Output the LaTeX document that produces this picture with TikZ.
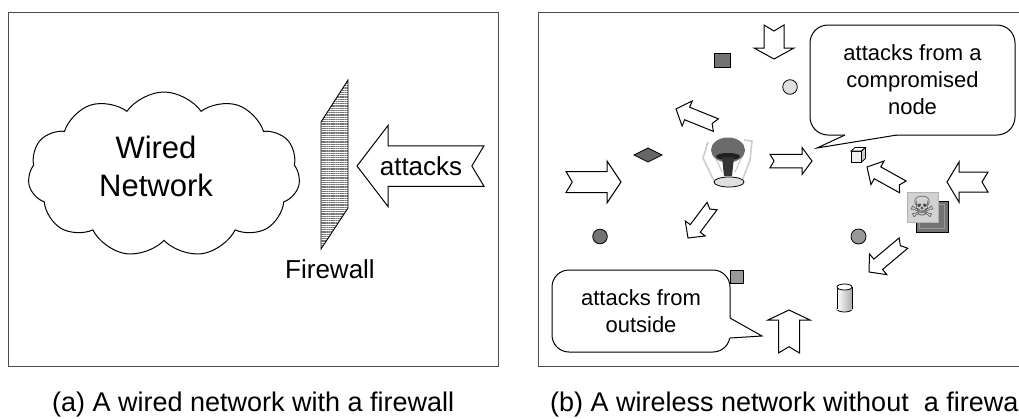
\documentclass[tikz,border=0pt]{standalone}
\usepackage{fontspec}
\setmainfont{Liberation Sans}
\newfontfamily\symbolfont{DejaVu Sans}
\usepackage{tikz}
\usetikzlibrary{shapes.symbols,patterns.meta}

\begin{document}
\begin{tikzpicture}[x=1pt,y=-1pt,
  panel/.style={draw=black!70,line width=1pt},
  blockarrow/.style={draw=black,fill=white,line width=1pt,line join=miter},
  bubble/.style={draw=black,fill=white,line width=1pt,rounded corners=18pt,
    inner sep=0pt,align=center,font=\fontsize{22}{27}\selectfont},
  caption/.style={anchor=base west,inner sep=0pt,font=\fontsize{27}{32}\selectfont},
  device/.style={draw=black,line width=0.8pt}]

\useasboundingbox (0,0) rectangle (1019,418);

% #1,#2 = tip, #3 = direction, #4 = length, #5 = head length, #6 = head width
\newcommand{\notcharrow}[6]{%
\begin{scope}[shift={(#1,#2)},rotate=#3]
  \pgfmathsetmacro{\hw}{#6/2}
  \pgfmathsetmacro{\sw}{#6/4}
  \pgfmathsetmacro{\nd}{-#4+0.15*#6}
  \draw[blockarrow] (0,0) -- (-#5,\hw) -- (-#5,\sw) -- (-#4,\sw)
    -- (\nd,0) -- (-#4,-\sw) -- (-#5,-\sw) -- (-#5,-\hw) -- cycle;
\end{scope}%
}

% Panel frames.
\draw[panel] (8,12) rectangle (498,366);
\draw[panel] (538,12) rectangle (1040,366);

% Left: wired network behind the firewall.
\node[cloud,draw=black,line width=1pt,cloud puffs=11,cloud puff arc=110,
  aspect=1.65,minimum width=272pt,minimum height=165pt,inner sep=0pt]
  (netcloud) at (164,174.5) {};
\node[align=center,font=\fontsize{31}{38}\selectfont]
  (wiredtxt) at (156,166) {Wired\\Network};

\draw[black,line width=0.9pt,
  pattern={Lines[angle=0,distance=1.8pt,line width=0.45pt]},pattern color=black!55]
  (348,80) -- (348,208) -- (321,249) -- (321,122) -- cycle;
\node[font=\fontsize{26}{30}\selectfont,anchor=base] (fwtxt) at (330,278) {Firewall};

\notcharrow{357}{166}{180}{127}{31}{81}
\node[font=\fontsize{26}{30}\selectfont,anchor=base] (atktxt) at (421,175) {attacks};

% Right: wireless nodes.
\draw[device,fill=black!55] (714,53) rectangle (730,67);
\draw[device,fill=gray!25] (790,87) circle (7.3);
\draw[device,fill=black!60] (634,155) -- (648,148) -- (662,155) -- (648,162) -- cycle;
\draw[device,fill=black!55] (600,236.5) circle (7.3);
\draw[device,fill=black!40] (858.5,236.5) circle (7.5);
\draw[device,fill=black!40] (730,270) rectangle (743,283);

% Cube.
\draw[device,fill=gray!12] (851,151) rectangle (861.5,162);
\draw[device,fill=white] (851,151) -- (855,147.5) -- (865.5,147.5) -- (861.5,151) -- cycle;
\draw[device,fill=gray!40] (861.5,151) -- (865.5,147.5) -- (865.5,158.5) -- (861.5,162) -- cycle;

% Cylinder.
\draw[device,left color=white,right color=gray!65] (844.5,309) ellipse [x radius=7.5,y radius=3];
\fill[left color=white,right color=gray!65] (837,287) rectangle (852,309);
\draw[device] (837,287) -- (837,309);
\draw[device] (852,287) -- (852,309);
\draw[device,fill=white] (844.5,287) ellipse [x radius=7.5,y radius=3];

% Compromised node.
\draw[gray!40,line width=1.6pt] (708,142) -- (703,158) -- (714,181);
\draw[gray!40,line width=1.6pt] (744,140) -- (752,141) -- (750,160) -- (742,181);
\draw[gray!40,line width=1.2pt] (712,150) -- (722,172);
\draw[gray!40,line width=1.2pt] (745,150) -- (735,172);
\fill[black!58] (728,150) ellipse [x radius=17,y radius=12.5];
\fill[black!88] (728,156.5) ellipse [x radius=12,y radius=3.5];
\fill[black!80] (722,157) -- (734,157) -- (732,176) -- (724,176) -- cycle;
\draw[black,fill=gray!25,line width=0.8pt] (729,182) ellipse [x radius=15,y radius=5];

% Skull icon.
\draw[black,fill=black!55] (916,201) rectangle (948,232);
\draw[gray!80] (919.5,204.5) rectangle (944.5,228.5);
\draw[gray!60,fill=gray!35] (907,192) rectangle (938,222);
\node[font=\symbolfont\fontsize{29}{29}\selectfont,text=black!70,inner sep=0pt]
  (skull) at (922.5,207) {☠};

% Attacks inside and outside the network.
\notcharrow{774}{59}{-90}{34}{11}{40}
\notcharrow{621}{182}{0}{55}{14}{42}
\notcharrow{947}{182}{180}{41}{12}{40}
\notcharrow{789}{310}{90}{43}{10}{42}
\notcharrow{812}{161}{0}{42}{10}{27}
\notcharrow{676}{109}{158}{43}{12}{27}
\notcharrow{688}{238}{233}{40}{12}{25}
\notcharrow{867}{167}{151}{41}{12}{27}
\notcharrow{869}{272}{220}{45}{12}{27}

% Callouts.
\node[bubble,minimum width=205pt,minimum height=110pt]
  (cmpbox) at (912.5,80) {attacks from a\\compromised\\node};
\fill[white] (845,133.6) -- (845,135) -- (817,148) -- (897,135) -- (897,133.6) -- cycle;
\draw[black,line width=1pt,line join=miter] (845,135) -- (817,148) -- (897,135);

\node[bubble,minimum width=178pt,minimum height=82pt,rounded corners=17pt]
  (outbox) at (641,311) {attacks from\\outside};
\fill[white] (728.6,318) -- (730,318) -- (762,336) -- (730,338) -- (728.6,338) -- cycle;
\draw[black,line width=1pt,line join=miter] (730,318) -- (762,336) -- (730,338);

% Captions.
\node[caption] (capa) at (52,411) {(a) A wired network with a firewall};
\node[caption] (capb) at (550,411) {(b) A wireless network without\ \ a firewall};

\end{tikzpicture}
\end{document}
